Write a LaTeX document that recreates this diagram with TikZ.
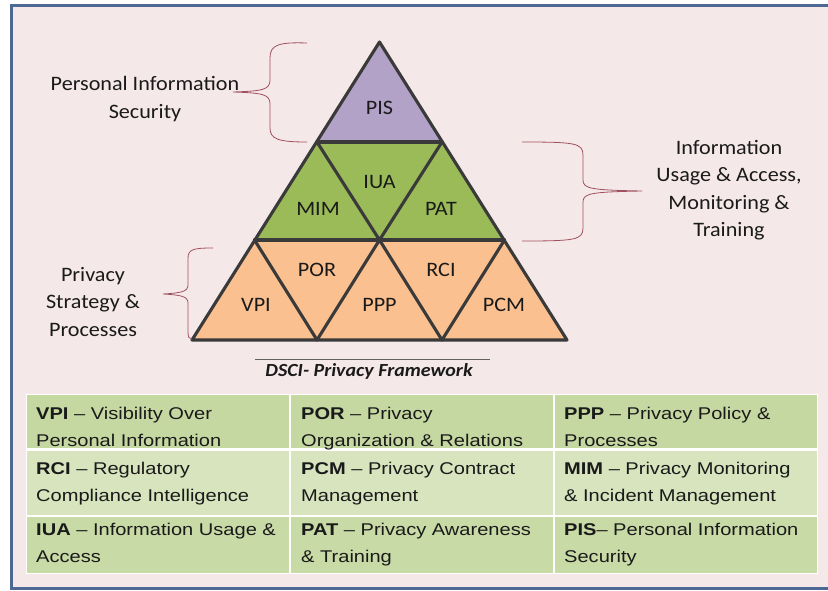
\documentclass[tikz,border=0pt]{standalone}
\usepackage{fontspec}
\setmainfont{Carlito}
\newfontfamily\diagfont[FakeStretch=1.08]{Carlito}
\newfontfamily\tabfont[FakeStretch=1.18]{Liberation Sans}
\definecolor{bgc}{HTML}{F5E8E8}
\definecolor{borderc}{HTML}{4D6893}
\definecolor{pisc}{HTML}{B3A2C7}
\definecolor{greenc}{HTML}{9BBB59}
\definecolor{orangec}{HTML}{FAC090}
\definecolor{edgec}{HTML}{3A3A3A}
\definecolor{bracec}{HTML}{A0505E}
\definecolor{rowa}{HTML}{C5D8A1}
\definecolor{rowb}{HTML}{D7E4BE}
\definecolor{rowc}{HTML}{C8DAA6}
\definecolor{txtc}{HTML}{1A1A1A}
\newcommand\hs{\rule{0pt}{14pt}}
\begin{document}
\begin{tikzpicture}[x=1pt,y=-1pt,
  tri/.style={draw=edgec, line width=3.1pt, line join=round, line cap=round},
  lab/.style={font=\diagfont\fontsize{20.5}{24}\selectfont, text=txtc, inner sep=0pt},
  side/.style={font=\diagfont\fontsize{20.5}{27.5}\selectfont, align=center, text=txtc, inner sep=0pt},
  brace/.style={draw=bracec, line width=0.8pt},
  cell/.style={anchor=north west, inner sep=0pt, align=left, text=txtc,
    font=\tabfont\fontsize{17}{27}\selectfont},
  sep/.style={draw=white, line width=1.3pt},
]
\useasboundingbox (0,0) rectangle (828,590);
\fill[white] (0,0) rectangle (828,590);
\fill[bgc] (11,5) rectangle (835,588);
\draw[borderc, line width=3pt] (11,5) rectangle (835,588);

% pyramid coordinates
\coordinate (A) at (379.5,42);
\coordinate (L1) at (317,142);
\coordinate (R1) at (442,142);
\coordinate (L2) at (254.5,240);
\coordinate (M2) at (379.5,240);
\coordinate (R2) at (504.5,240);
\coordinate (L3) at (192,340);
\coordinate (Q1) at (317,340);
\coordinate (Q2) at (442,340);
\coordinate (R3) at (567,340);

\fill[pisc] (A) -- (L1) -- (R1) -- cycle;
\fill[greenc] (L1) -- (R1) -- (R2) -- (L2) -- cycle;
\fill[orangec] (L2) -- (R2) -- (R3) -- (L3) -- cycle;
\draw[tri] (A) -- (L3) -- (R3) -- cycle;
\draw[tri] (L1) -- (R1);
\draw[tri] (L2) -- (R2);
\draw[tri] (L1) -- (M2) -- (R1);
\draw[tri] (L2) -- (Q1) -- (M2) -- (Q2) -- (R2);

\node[lab] (pis) at (379.5,108) {PIS};
\node[lab] (mim) at (318,209) {MIM};
\node[lab] (iua) at (379.5,182) {IUA};
\node[lab] (pat) at (441,209) {PAT};
\node[lab] (vpi) at (256,305) {VPI};
\node[lab] (por) at (317,270) {POR};
\node[lab] (ppp) at (379.5,305) {PPP};
\node[lab] (rci) at (441,270) {RCI};
\node[lab] (pcm) at (504,305) {PCM};

% braces
\draw[brace] (307,43) .. controls (278,42) and (270,45) .. (270,58) -- (270,80)
  .. controls (270,90) and (262,91) .. (233,92)
  .. controls (262,93) and (270,94) .. (270,104) -- (270,128)
  .. controls (270,139) and (278,142) .. (307,142);
\draw[brace] (522,142) .. controls (575,142) and (583,143) .. (583,155) -- (583,180)
  .. controls (583,189) and (592,190) .. (642,191)
  .. controls (592,192) and (583,193) .. (583,202) -- (583,228)
  .. controls (583,240) and (575,241) .. (522,241);
\draw[brace] (213,248) .. controls (194,248) and (188,249) .. (188,258) -- (188,285)
  .. controls (188,292) and (180,293) .. (163,294)
  .. controls (180,295) and (188,296) .. (188,303) -- (188,332)
  .. controls (188,337) and (189,339) .. (192,339);

\node[side] (tpis) at (145,99) {Personal Information\\Security};
\node[side] (tiua) at (729,190) {Information\\Usage \& Access,\\Monitoring \&\\Training};
\node[side] (tpsp) at (93,302) {Privacy\\Strategy \&\\Processes};

% caption
\draw[edgec!80, line width=0.7pt] (255,359) -- (490,359);
\node[font=\diagfont\fontsize{18.5}{20}\selectfont\bfseries\itshape, text=txtc, inner sep=0pt] (cap) at (369,371) {DSCI- Privacy Framework};

% table
\fill[rowa] (26,394) rectangle (817,448);
\fill[rowb] (26,451) rectangle (817,515);
\fill[rowc] (26,517) rectangle (817,573);
\draw[white, line width=3pt] (26,449.5) -- (817,449.5);
\draw[sep] (26,516) -- (817,516);
\draw[sep] (290,394) -- (290,573);
\draw[sep] (554,394) -- (554,573);
\draw[white, line width=1pt] (26,394) rectangle (817,573);

\node[cell] (c11) at (36,405) {\hs\textbf{VPI} – Visibility Over\\Personal Information};
\node[cell] (c12) at (301,405) {\hs\textbf{POR} – Privacy\\Organization \& Relations};
\node[cell] (c13) at (564,405) {\hs\textbf{PPP} – Privacy Policy \&\\Processes};
\node[cell] (c21) at (36,460) {\hs\textbf{RCI} – Regulatory\\Compliance Intelligence};
\node[cell] (c22) at (301,460) {\hs\textbf{PCM} – Privacy Contract\\Management};
\node[cell] (c23) at (564,460) {\hs\textbf{MIM} – Privacy Monitoring\\\& Incident Management};
\node[cell] (c31) at (36,521) {\hs\textbf{IUA} – Information Usage \&\\Access};
\node[cell] (c32) at (301,521) {\hs\textbf{PAT} – Privacy Awareness\\\& Training};
\node[cell] (c33) at (564,521) {\hs\textbf{PIS}– Personal Information\\Security};
\end{tikzpicture}
\end{document}
